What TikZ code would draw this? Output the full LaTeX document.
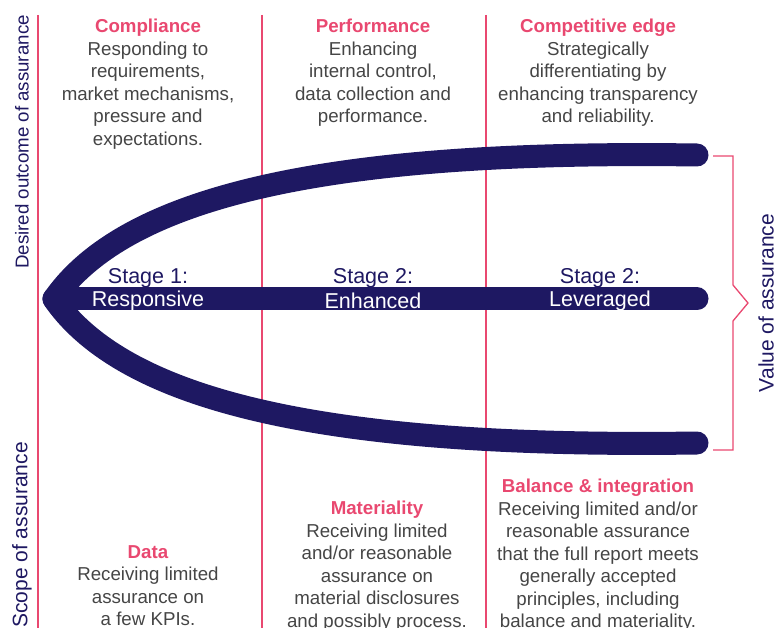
\documentclass[tikz,border=0pt]{standalone}
\usepackage{fontspec}
\setmainfont{Liberation Sans}
\definecolor{pinkc}{HTML}{E94870}
\definecolor{navyc}{HTML}{1E1862}
\definecolor{grayc}{HTML}{454545}
\begin{document}
\begin{tikzpicture}[x=1pt,y=-1pt,
  body/.style={align=center,inner sep=0pt,text=grayc,font=\fontsize{18.7}{22.5}\selectfont},
  sidelabel/.style={rotate=90,inner sep=0pt,text=navyc,font=\fontsize{18.7}{22.5}\selectfont},
  stagelbl/.style={inner sep=0pt,text=navyc,font=\fontsize{21.5}{24}\selectfont},
  stagename/.style={inner sep=0pt,text=white,font=\fontsize{21.5}{24}\selectfont},
  divider/.style={draw=pinkc,line width=2pt},
  arc/.style={draw=navyc,line width=23pt,line cap=round,line join=round}]
\newcommand{\hd}[1]{{\bfseries\color{pinkc}#1}}
\useasboundingbox (0,0) rectangle (779,628);
% dividers
\coordinate (l1t) at (38,15); \coordinate (l1b) at (38,628);
\coordinate (l2t) at (262,15); \coordinate (l2b) at (262,628);
\coordinate (l3t) at (486,15); \coordinate (l3b) at (486,628);
\draw[divider] (l1t) -- (l1b);
\draw[divider] (l2t) -- (l2b);
\draw[divider] (l3t) -- (l3b);
% side labels
\node[sidelabel] (desired) at (22,142) {Desired outcome of assurance};
\node[sidelabel,font=\fontsize{21}{24}\selectfont] (scope) at (22,535) {Scope of assurance};
\node[sidelabel,font=\fontsize{21}{24}\selectfont] (value) at (766,303) {Value of assurance};
% top texts
\node[body,anchor=north] (compl) at (148,19) {\hd{Compliance}\\Responding to\\requirements,\\market mechanisms,\\pressure and\\expectations.};
\node[body,anchor=north] (perf) at (373,19) {\hd{Performance}\\Enhancing\\internal control,\\data collection and\\performance.};
\node[body,anchor=north] (comp) at (598,19) {\hd{Competitive edge}\\Strategically\\differentiating by\\enhancing transparency\\and reliability.};
% curve
\coordinate (tip) at (54,299);
\coordinate (topend) at (697,155);
\coordinate (midend) at (697,299);
\coordinate (botend) at (697,443);
\draw[arc] (topend) .. controls (350,150) and (130,190) .. (tip) .. controls (130,408) and (350,448) .. (botend);
\draw[arc] (tip) -- (midend);
% stages
\node[stagelbl] (s1) at (148,278) {Stage 1:};
\node[stagename] (r1) at (148,301) {Responsive};
\node[stagelbl] (s2) at (373,278) {Stage 2:};
\node[stagename] (r2) at (373,301) {Enhanced};
\node[stagelbl] (s3) at (600,278) {Stage 2:};
\node[stagename] (r3) at (600,301) {Leveraged};
% bracket
\coordinate (b1) at (713,156); \coordinate (b2) at (733,156);
\coordinate (b3) at (733,285); \coordinate (b4) at (748,303);
\coordinate (b5) at (733,321); \coordinate (b6) at (733,450);
\coordinate (b7) at (713,450);
\draw[draw=pinkc,line width=1.3pt] (b1) -- (b2) -- (b3) -- (b4) -- (b5) -- (b6) -- (b7);
% bottom texts
\node[body,anchor=north] (data) at (148,545) {\hd{Data}\\Receiving limited\\assurance on\\a few KPIs.};
\node[body,anchor=north] (mat) at (377,501) {\hd{Materiality}\\Receiving limited\\and/or reasonable\\assurance on\\material disclosures\\and possibly process.};
\node[body,anchor=north] (bal) at (598,479) {\hd{Balance \& integration}\\Receiving limited and/or\\reasonable assurance\\that the full report meets\\generally accepted\\principles, including\\balance and materiality.};
\end{tikzpicture}
\end{document}
